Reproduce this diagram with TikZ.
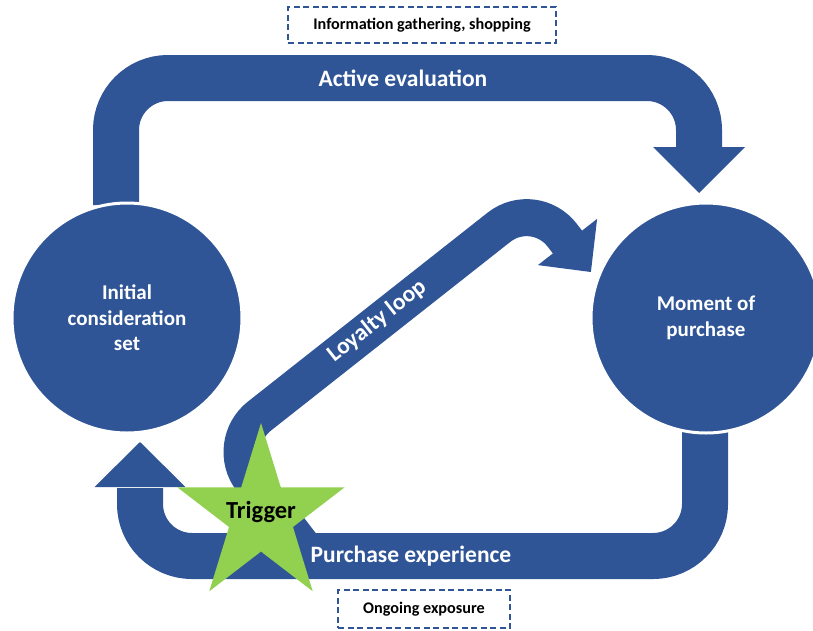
\documentclass[tikz,border=0pt]{standalone}
\usepackage{fontspec}
\setmainfont{Carlito}
\definecolor{cblue}{RGB}{47,85,151}
\definecolor{cgreen}{RGB}{146,208,80}
\begin{document}
\begin{tikzpicture}[x=1pt,y=-1pt,
 band/.style={draw=cblue, line width=46pt, line cap=butt, rounded corners=52pt},
 lband/.style={draw=cblue, line width=37pt, line cap=butt, rounded corners=45pt},
 circ/.style={circle, fill=cblue, draw=white, line width=3pt, minimum size=230pt, inner sep=0pt, text=white, font=\fontsize{21}{25.5}\selectfont\bfseries, align=center},
 lbl/.style={text=white, font=\fontsize{23.5}{28}\selectfont\bfseries, inner sep=0pt},
 dbox/.style={draw=cblue, dash pattern=on 6pt off 3.5pt, line width=1.4pt, font=\fontsize{16.2}{19}\selectfont\bfseries, inner sep=0pt}
]
\useasboundingbox (0,0) rectangle (813,630);
% waypoints
\coordinate (tA) at (116,205);
\coordinate (tB) at (116,78);
\coordinate (tC) at (699,78);
\coordinate (tD) at (699,148);
\coordinate (bA) at (705,428);
\coordinate (bB) at (705,556);
\coordinate (bC) at (140,556);
\coordinate (bD) at (140,488);
\coordinate (lA) at (310,556);
\coordinate (lB) at (224,444);
\coordinate (lC) at (534.3,199.4);
\coordinate (lD) at (568.1,242.8);
% arrows
\draw[band] (tA) -- (tB) -- (tC) -- (tD);
\fill[cblue] (653,147) coordinate (th1) -- (745,147) coordinate (th2) -- (699,193) coordinate (tip1) -- cycle;
\draw[band] (bA) -- (bB) -- (bC) -- (bD);
\fill[cblue] (94.5,487) coordinate (bh1) -- (185.5,487) coordinate (bh2) -- (140,442) coordinate (tip2) -- cycle;
\draw[lband] (lA) -- (lB) -- (lC) -- (lD);
\fill[cblue] (597.1,218.9) coordinate (lh1) -- (590.9,272.0) coordinate (tip3) -- (537.9,265.1) coordinate (lh2) -- cycle;
% circles
\node[circ] (ics) at (127,318) {Initial\\consideration\\set};
\node[circ] (mop) at (706,318) {Moment of\\purchase};
% labels on bands
\node[lbl] (ae) at (403,78) {Active evaluation};
\node[lbl] (pe) at (411,556) {Purchase experience};
\node[lbl, rotate=38.3] (ll) at (377,321) {Loyalty loop};
% star
\begin{scope}[shift={(261,516)}, yscale=1.057]
\fill[cgreen] (-90:88) -- (-54:33.6) -- (-18:88) -- (18:33.6) -- (54:88) -- (90:33.6) -- (126:88) -- (162:33.6) -- (198:88) -- (234:33.6) -- cycle;
\end{scope}
\node[font=\fontsize{24.5}{28}\selectfont\bfseries, text=black] (trig) at (261,512) {Trigger};
% dashed boxes
\node[dbox, minimum width=268pt, minimum height=36pt] (info) at (422,25) {Information gathering, shopping};
\node[dbox, minimum width=172pt, minimum height=38pt] (ongo) at (424,609) {Ongoing exposure};
\end{tikzpicture}
\end{document}
